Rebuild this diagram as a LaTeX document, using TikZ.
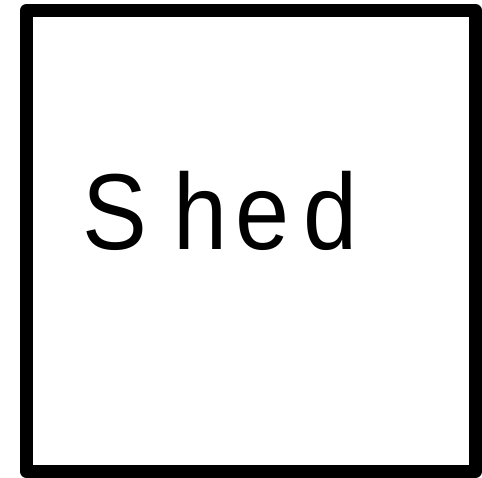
\documentclass[tikz,border=0pt]{standalone}
\usepackage{fontspec}
\setmainfont{Liberation Sans}
\newfontfamily\shedfont[FakeStretch=0.9]{Liberation Sans}
\usetikzlibrary{positioning}

\begin{document}
\begin{tikzpicture}[
  x=1pt,y=1pt,
  shedbox/.style={draw,line width=13pt,line join=round,inner sep=0pt,
    minimum width=449pt,minimum height=461pt},
  shedlabel/.style={inner sep=0pt,anchor=base west,font=\shedfont\fontsize{108}{120}\selectfont}
]
  \useasboundingbox (0,0) rectangle (482,478);
  % Shed outline
  \node[shedbox] (shed) at (251,237) {};
  % Label
  \node[shedlabel] (shedname) at (82.4,228) {S\kern26pt h\kern8pt e\kern14pt d};
\end{tikzpicture}
\end{document}
